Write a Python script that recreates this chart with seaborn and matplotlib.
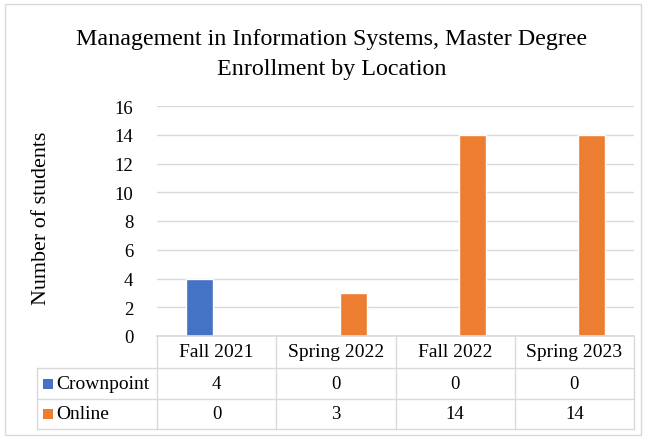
import numpy as np
import pandas as pd
import matplotlib
matplotlib.use("Agg")
import matplotlib.pyplot as plt
import matplotlib.transforms as mtransforms
from matplotlib.patches import Rectangle
import seaborn as sns

# Data
TERMS = ["Fall 2021", "Spring 2022", "Fall 2022", "Spring 2023"]
LOCATIONS = ["Crownpoint", "Online"]
CROWNPOINT = [4, 0, 0, 0]
ONLINE = [0, 3, 14, 14]
Y_TICKS = [0, 2, 4, 6, 8, 10, 12, 14, 16]
TITLE = ["Management in Information Systems, Master Degree", "Enrollment by Location"]

COLORS = {"Crownpoint": "#4472C4", "Online": "#ED7D31"}
GRID = "#d9d9d9"

sns.set_theme(style="white")
plt.rcParams["font.family"] = ["Liberation Serif", "DejaVu Serif"]
plt.rcParams["text.color"] = "black"

df = pd.DataFrame({
    "term": TERMS * 2,
    "location": ["Crownpoint"] * len(TERMS) + ["Online"] * len(TERMS),
    "students": CROWNPOINT + ONLINE,
})
values = {"Crownpoint": CROWNPOINT, "Online": ONLINE}

W, H = 646, 439
# plot area in pixels
PL, PR, PT, PB = 157, 634, 107, 337
fig = plt.figure(figsize=(W / 100, H / 100), dpi=100)
ax = fig.add_axes([PL / W, 1 - PB / H, (PR - PL) / W, (PB - PT) / H])

sns.barplot(data=df, x="term", y="students", hue="location", order=TERMS,
            hue_order=LOCATIONS, palette=COLORS, saturation=1, width=0.58,
            gap=0.22, errorbar=None, legend=False, ax=ax)

ax.set_xlim(-0.5, len(TERMS) - 0.5)
ax.set_ylim(0, 16)
ax.set_yticks(Y_TICKS)
ax.set_xticks([])
ax.set_xlabel("")
ax.set_ylabel("")
ax.yaxis.grid(True, color=GRID, lw=1)
ax.set_axisbelow(True)
for s in ["top", "right", "left"]:
    ax.spines[s].set_visible(False)
ax.spines["bottom"].set_color(GRID)
ax.tick_params(axis="y", length=0, pad=17, labelsize=13.5, labelcolor="black")

# Title and axis label
fig.text(332 / W, 1 - 40 / H, TITLE[0], ha="center", va="center", fontsize=17.3)
fig.text(332 / W, 1 - 70 / H, TITLE[1], ha="center", va="center", fontsize=17.3)
fig.text(42 / W, 1 - 218 / H, "Number of students", rotation=90,
         ha="center", va="center", fontsize=15.8)

# Data table under the plot
trans = mtransforms.blended_transform_factory(ax.transData, ax.transAxes)
ax_h = PB - PT
col_w = (PR - PL) / len(TERMS)
rows_px = [PB, 369, 400, 430]
rows_y = [(PB - r) / ax_h for r in rows_px]
xl = -0.5 - (PL - 37) / col_w
xr = len(TERMS) - 0.5

line_kw = dict(transform=trans, clip_on=False, color=GRID, lw=1)
for i in range(len(TERMS) + 1):
    ax.plot([i - 0.5, i - 0.5], [rows_y[0], rows_y[-1]], **line_kw)
for y in rows_y[1:]:
    ax.plot([xl, xr], [y, y], **line_kw)
ax.plot([xl, xl], [rows_y[1], rows_y[-1]], **line_kw)

hdr_mid = (rows_y[0] + rows_y[1]) / 2
for i, t in enumerate(TERMS):
    ax.text(i, hdr_mid, t, transform=trans, ha="center", va="center",
            fontsize=14, clip_on=False)

for r, loc in enumerate(LOCATIONS):
    ymid = (rows_y[r + 1] + rows_y[r + 2]) / 2
    ax.add_patch(Rectangle((xl + 6 / col_w, ymid - 5 / ax_h), 10 / col_w, 10 / ax_h,
                           transform=trans, clip_on=False, color=COLORS[loc], lw=0))
    ax.text(xl + 19 / col_w, ymid, loc, transform=trans, ha="left", va="center",
            fontsize=14, clip_on=False)
    for i, v in enumerate(values[loc]):
        ax.text(i, ymid, str(v), transform=trans, ha="center", va="center",
                fontsize=13.5, clip_on=False)

# outer chart border
fig.patches.append(Rectangle((5 / W, 3 / H), 636 / W, 431 / H, transform=fig.transFigure,
                             fill=False, edgecolor=GRID, lw=1))

fig.savefig("out.png", dpi=100)
